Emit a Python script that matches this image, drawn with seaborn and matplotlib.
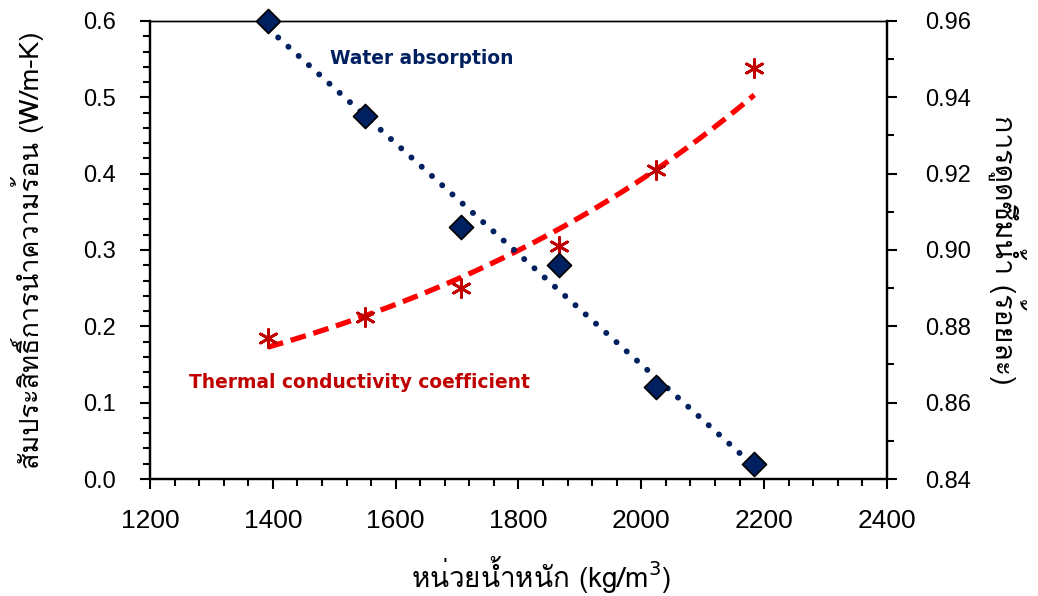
import numpy as np
import pandas as pd
import matplotlib
matplotlib.use("Agg")
import matplotlib.pyplot as plt
import seaborn as sns
from matplotlib import font_manager
from matplotlib.ft2font import FT2Font
from matplotlib.ticker import MultipleLocator, FormatStrFormatter

# values
density = [1392, 1550, 1707, 1866, 2024, 2184]
conductivity = [0.185, 0.212, 0.250, 0.305, 0.405, 0.538]
absorption = [0.960, 0.935, 0.906, 0.896, 0.864, 0.844]

x_label = "หน่วยน้ำหนัก (kg/m$^3$)"
y_label = "สัมประสิทธิ์การนำความร้อน (W/m-K)"
y2_label = "การดูดซึมน้ำ (ร้อยละ)"

navy = "#002060"
red_line = "#FF0000"
red_mark = "#C00000"


def find_thai_font():
    for f in font_manager.fontManager.ttflist:
        try:
            if 0x0E2A in FT2Font(f.fname).get_charmap():
                return f.name
        except Exception:
            pass
    return None


sns.set_style("ticks", {"axes.edgecolor": "black", "xtick.color": "black",
                        "ytick.color": "black", "text.color": "black",
                        "axes.labelcolor": "black"})
thai = find_thai_font()
fams = ([thai] if thai else []) + ["Liberation Sans", "DejaVu Sans"]
plt.rcParams["font.family"] = ["Liberation Sans", "DejaVu Sans"]

df = pd.DataFrame({"density": density, "conductivity": conductivity, "absorption": absorption})

# trend lines: exponential for conductivity, linear for absorption
xs = np.linspace(min(density), max(density), 200)
b, a = np.polyfit(df["density"], np.log(df["conductivity"]), 1)
m, c = np.polyfit(df["density"], df["absorption"], 1)
trend = pd.DataFrame({"x": xs, "cond": np.exp(a + b * xs), "absn": m * xs + c})

fig = plt.figure(figsize=(10.38, 5.96), dpi=100)
ax = fig.add_axes([0.1445, 0.1963, 0.7100, 0.7685])
ax2 = ax.twinx()

sns.lineplot(data=trend, x="x", y="cond", ax=ax, color=red_line, lw=3.8,
             linestyle=(0, (3.0, 1.5)), zorder=2)
sns.scatterplot(data=df, x="density", y="conductivity", ax=ax, marker=(6, 2, 0),
                s=170, color=red_mark, edgecolor=red_mark, linewidth=2, zorder=3)

ln = sns.lineplot(data=trend, x="x", y="absn", ax=ax2, color=navy, lw=4.3, zorder=2)
ln.lines[-1].set_dashes((0.01, 2.3))
ln.lines[-1].set_dash_capstyle("round")
sns.scatterplot(data=df, x="density", y="absorption", ax=ax2, marker="D",
                s=150, color=navy, edgecolor="black", linewidth=1.2, zorder=3, clip_on=False)

ax.set_xlim(1200, 2400)
ax.set_ylim(0, 0.6)
ax2.set_ylim(0.84, 0.96)

ax.xaxis.set_major_locator(MultipleLocator(200))
ax.xaxis.set_minor_locator(MultipleLocator(40))
ax.yaxis.set_major_locator(MultipleLocator(0.1))
ax.yaxis.set_minor_locator(MultipleLocator(0.02))
ax.yaxis.set_major_formatter(FormatStrFormatter("%.1f"))
ax2.yaxis.set_major_locator(MultipleLocator(0.02))
ax2.yaxis.set_minor_locator(MultipleLocator(0.01))
ax2.yaxis.set_major_formatter(FormatStrFormatter("%.2f"))

for a_ in (ax, ax2):
    a_.tick_params(which="major", direction="out", length=7.5, width=1.5, labelsize=17,
                   pad=17, colors="black")
    a_.tick_params(which="minor", direction="out", length=5, width=1.5, colors="black")
    for s in a_.spines.values():
        s.set_color("black")
        s.set_linewidth(1.6)
    a_.spines["top"].set_linewidth(1.0)
ax.tick_params(axis="x", which="major", labelsize=19, pad=14)
ax2.tick_params(axis="y", which="major", pad=20)

ax.set_xlabel(x_label, family=fams, fontsize=20, labelpad=15)
ax.xaxis.label.set_x(0.531)
ax.set_ylabel(y_label, family=fams, fontsize=19.5, labelpad=28)
ax2.set_ylabel(y2_label, family=fams, fontsize=20.5, rotation=270, labelpad=40)

ax.text(1493, 0.5515, "Water absorption", color=navy, fontsize=13.4, fontweight="bold",
        family="DejaVu Sans", va="center")
ax.text(1263, 0.127, "Thermal conductivity coefficient", color=red_mark, fontsize=13.4,
        fontweight="bold", family="DejaVu Sans", va="center")

fig.savefig("out.png", dpi=100, facecolor="white")
